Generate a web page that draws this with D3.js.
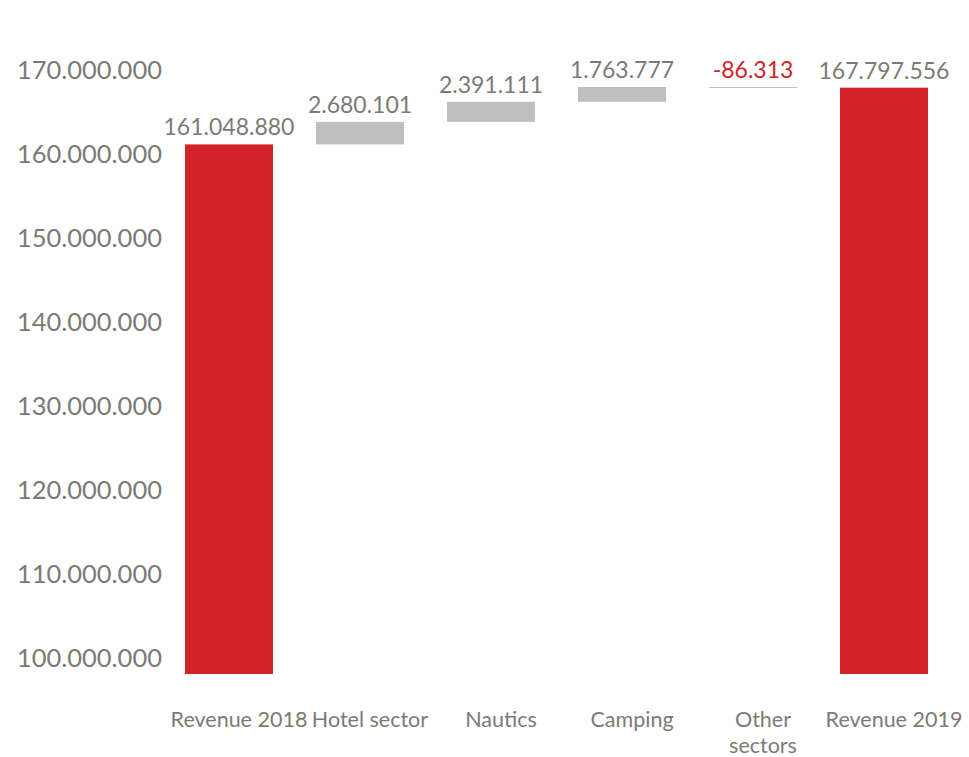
<!DOCTYPE html>
<html>
<head>
<meta charset="utf-8">
<script src="https://cdn.jsdelivr.net/npm/d3@7"></script>
<style>
  html, body { margin: 0; padding: 0; background: #ffffff; }
  svg { display: block; }
  text { font-family: Lato, "Open Sans", sans-serif; font-weight: 400; }
</style>
</head>
<body>
<svg id="chart" width="969" height="757"></svg>
<script>
// Revenue bridge 2018 -> 2019 by sector
const categories = ["Revenue 2018", "Hotel sector", "Nautics", "Camping", "Other sectors", "Revenue 2019"];
const categoryLines = [["Revenue 2018"], ["Hotel sector"], ["Nautics"], ["Camping"], ["Other", "sectors"], ["Revenue 2019"]];
const values = [161048880, 2680101, 2391111, 1763777, -86313, 167797556];
const kinds = ["total", "delta", "delta", "delta", "delta", "total"];
const yTicks = [100000000, 110000000, 120000000, 130000000, 140000000, 150000000, 160000000, 170000000];
const yDomain = [98000000, 174000000];

const RED = "#d2232a";
const GREY_BAR = "#bfbfbf";
const TEXT = "#7b7b75";

const svg = d3.select("#chart");

const locale = d3.formatLocale({ decimal: ",", thousands: ".", grouping: [3], currency: ["", ""], minus: "-" });
const fmt = locale.format(",d");

const x = d3.scaleBand()
  .domain(categories)
  .range([163.5, 949.5])
  .paddingInner(0.328)
  .paddingOuter(0.164);

const y = d3.scaleLinear()
  .domain(yDomain)
  .range([674, 35.6]);

// running totals for the waterfall
let running = 0;
const bars = categories.map((c, i) => {
  let start, end;
  if (kinds[i] === "total") {
    start = yDomain[0];
    end = values[i];
    running = values[i];
  } else {
    start = running;
    end = running + values[i];
    running = end;
  }
  return { cat: c, value: values[i], kind: kinds[i], start, end, lines: categoryLines[i] };
});

// y axis: labels only
const yAxis = d3.axisLeft(y)
  .tickValues(yTicks)
  .tickFormat(fmt)
  .tickSize(0)
  .tickPadding(0);

const gy = svg.append("g")
  .attr("transform", "translate(162,0)")
  .call(yAxis);
gy.select(".domain").remove();
gy.selectAll("text")
  .attr("fill", TEXT)
  .style("font-size", "25.5px")
  .style("font-family", "Lato, 'Open Sans', sans-serif")
  .attr("dy", "0.35em");

// bars
svg.append("g")
  .selectAll("rect")
  .data(bars)
  .join("rect")
  .attr("x", d => x(d.cat))
  .attr("width", x.bandwidth())
  .attr("y", d => y(Math.max(d.start, d.end)))
  .attr("height", d => Math.max(1, Math.abs(y(d.start) - y(d.end))))
  .attr("fill", d => d.kind === "total" ? RED : GREY_BAR);

// value labels above each bar
svg.append("g")
  .selectAll("text")
  .data(bars)
  .join("text")
  .attr("x", d => x(d.cat) + x.bandwidth() / 2)
  .attr("y", d => y(Math.max(d.start, d.end)) - 9)
  .attr("text-anchor", "middle")
  .attr("fill", d => d.value < 0 ? RED : TEXT)
  .style("font-size", "23px")
  .text(d => fmt(d.value));

// category labels
const labelX = d => x(d.cat) + x.bandwidth() / 2 + 10;
const cat = svg.append("g")
  .selectAll("text")
  .data(bars)
  .join("text")
  .attr("x", labelX)
  .attr("y", 727)
  .attr("text-anchor", "middle")
  .attr("fill", TEXT)
  .style("font-size", "21.5px");
cat.selectAll("tspan")
  .data(d => d.lines.map(l => ({ l, x: labelX(d) })))
  .join("tspan")
  .attr("x", t => t.x)
  .attr("dy", (t, i) => i === 0 ? 0 : 26)
  .text(t => t.l);
</script>
</body>
</html>
